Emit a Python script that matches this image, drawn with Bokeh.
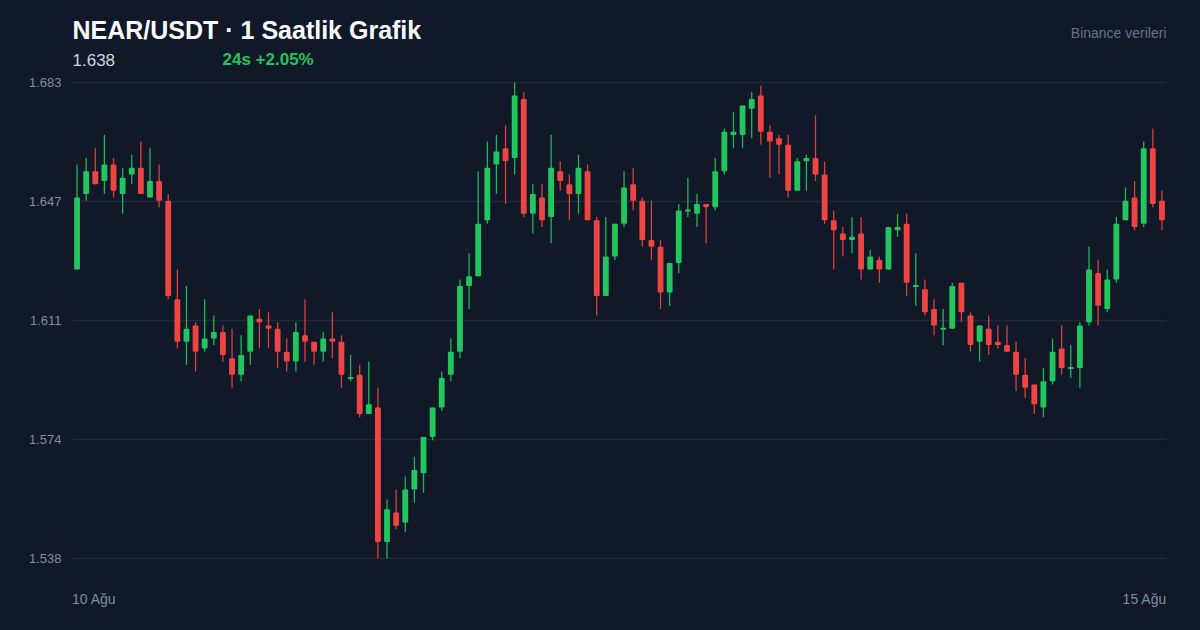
from bokeh.plotting import figure
from bokeh.layouts import column
from bokeh.models import FixedTicker, Range1d
from bokeh.core.properties import value
from bokeh.embed import file_html
from bokeh.resources import INLINE

opens = [1.626,1.649,1.656,1.653,1.658,1.649,1.655,1.657,1.648,1.653,1.647,1.617,1.604,1.609,1.602,1.605,1.607,1.599,1.594,1.601,
         1.611,1.609,1.608,1.601,1.598,1.606,1.604,1.601,1.605,1.604,1.593,1.594,1.582,1.584,1.543,1.552,1.549,1.559,1.564,1.575,
         1.584,1.594,1.601,1.621,1.624,1.641,1.658,1.663,1.660,1.678,1.643,1.648,1.642,1.656,1.652,1.649,1.656,1.641,1.618,1.630,
         1.640,1.652,1.647,1.635,1.633,1.619,1.628,1.644,1.643,1.646,1.645,1.656,1.667,1.667,1.675,1.679,1.668,1.666,1.664,1.650,
         1.659,1.660,1.655,1.641,1.637,1.635,1.637,1.626,1.629,1.626,1.638,1.640,1.621,1.620,1.614,1.608,1.608,1.622,1.612,1.604,
         1.608,1.604,1.603,1.601,1.594,1.591,1.584,1.592,1.602,1.596,1.596,1.610,1.625,1.614,1.623,1.641,1.648,1.640,1.663,1.647]
closes = [1.648,1.656,1.652,1.658,1.650,1.654,1.657,1.649,1.653,1.647,1.618,1.604,1.608,1.601,1.605,1.607,1.600,1.594,1.600,1.612,
          1.610,1.608,1.601,1.598,1.607,1.604,1.601,1.605,1.604,1.594,1.593,1.582,1.585,1.543,1.553,1.548,1.559,1.565,1.575,1.584,
          1.593,1.601,1.621,1.624,1.640,1.657,1.662,1.659,1.679,1.643,1.649,1.641,1.657,1.653,1.649,1.657,1.641,1.618,1.630,1.640,
          1.651,1.647,1.635,1.633,1.619,1.628,1.644,1.644,1.646,1.645,1.656,1.668,1.668,1.676,1.678,1.668,1.665,1.664,1.650,1.659,
          1.660,1.655,1.641,1.638,1.635,1.636,1.626,1.630,1.626,1.639,1.639,1.622,1.621,1.613,1.609,1.608,1.621,1.613,1.603,1.609,
          1.603,1.603,1.601,1.594,1.590,1.585,1.592,1.601,1.596,1.596,1.609,1.626,1.615,1.623,1.640,1.647,1.639,1.663,1.646,1.641]
highs = [1.658,1.660,1.663,1.667,1.660,1.657,1.661,1.665,1.663,1.658,1.649,1.626,1.621,1.610,1.617,1.612,1.609,1.608,1.606,1.612,
         1.614,1.613,1.610,1.605,1.610,1.617,1.604,1.607,1.613,1.606,1.600,1.597,1.598,1.590,1.556,1.559,1.563,1.569,1.575,1.584,
         1.595,1.605,1.623,1.631,1.656,1.665,1.667,1.670,1.683,1.680,1.652,1.652,1.667,1.659,1.655,1.661,1.658,1.642,1.642,1.640,
         1.656,1.657,1.648,1.647,1.635,1.628,1.646,1.654,1.649,1.646,1.660,1.669,1.674,1.676,1.680,1.682,1.670,1.667,1.667,1.660,
         1.661,1.673,1.659,1.644,1.639,1.642,1.642,1.632,1.630,1.639,1.643,1.643,1.631,1.623,1.617,1.614,1.622,1.622,1.613,1.609,
         1.612,1.609,1.609,1.604,1.599,1.591,1.596,1.605,1.609,1.603,1.610,1.633,1.629,1.626,1.642,1.651,1.653,1.665,1.669,1.650]
lows = [1.626,1.647,1.652,1.649,1.648,1.643,1.652,1.649,1.648,1.645,1.617,1.602,1.597,1.595,1.601,1.603,1.598,1.590,1.592,1.597,
        1.602,1.602,1.596,1.595,1.595,1.598,1.597,1.598,1.599,1.590,1.592,1.581,1.582,1.538,1.538,1.547,1.546,1.555,1.558,1.574,
        1.583,1.592,1.599,1.614,1.624,1.640,1.649,1.646,1.655,1.642,1.637,1.639,1.634,1.650,1.641,1.643,1.641,1.612,1.618,1.629,
        1.639,1.644,1.633,1.629,1.614,1.615,1.625,1.642,1.639,1.634,1.644,1.655,1.663,1.663,1.666,1.664,1.654,1.655,1.648,1.650,
        1.650,1.653,1.640,1.626,1.630,1.631,1.623,1.626,1.622,1.626,1.636,1.618,1.615,1.612,1.606,1.603,1.608,1.610,1.601,1.598,
        1.600,1.602,1.601,1.589,1.587,1.582,1.581,1.591,1.594,1.593,1.590,1.609,1.609,1.613,1.622,1.641,1.638,1.639,1.645,1.638]

y_ticks = [1.538, 1.57425, 1.6105, 1.64675, 1.683]
y_tick_labels = ["1.538", "1.574", "1.611", "1.647", "1.683"]
x_tick_slots = [2.38, 117.62]
x_tick_labels = ["10 Ağu", "15 Ağu"]

BG = "#111827"
GREEN = "#22c55e"
RED = "#ef4444"
FONT = "Liberation Sans"
HEADER_H = 72

# header strip: its ranges are the pixels of the strip
head = figure(width=1200, height=HEADER_H, output_backend="svg", toolbar_location=None,
              x_range=Range1d(0, 1200), y_range=Range1d(HEADER_H, 0),
              x_axis_type=None, y_axis_type=None,
              background_fill_color=BG, border_fill_color=BG, min_border=0)
head.frame_align = False
head.outline_line_color = None
head.grid.visible = False

def txt(s, x, y, size, color, bold=False, align="left"):
    head.text([x], [y], text=[s], text_font=value(FONT), text_font_size=value(size),
              text_color=color, text_font_style="bold" if bold else "normal",
              text_align=align, text_baseline="alphabetic")

txt("NEAR/USDT · 1 Saatlik Grafik", 72, 29, "25px", "#f8fafc", bold=True)
txt("1.638", 72, 59, "17px", "#cbd5e1")
txt("24s +2.05%", 222, 59, "17px", GREEN, bold=True)
txt("Binance verileri", 1166, 32, "14px", "#64748b", align="right")

p = figure(width=1200, height=558, output_backend="svg", toolbar_location=None,
           x_range=Range1d(0, len(opens)), y_range=Range1d(1.5377, 1.6833),
           background_fill_color=BG, border_fill_color=BG,
           min_border_left=72, min_border_right=34, min_border_top=9, min_border_bottom=71)
p.frame_align = False
p.outline_line_color = None

p.xgrid.visible = False
p.ygrid.grid_line_color = "#1e2a38"
p.ygrid.grid_line_width = 1.5
p.ygrid.ticker = FixedTicker(ticks=y_ticks)

ya = p.yaxis[0]
ya.ticker = FixedTicker(ticks=y_ticks)
ya.major_label_overrides = dict(zip(y_ticks, y_tick_labels))
ya.axis_line_color = None
ya.major_tick_line_color = None
ya.minor_tick_line_color = None
ya.major_label_text_color = "#7f8ea3"
ya.major_label_text_font = FONT
ya.major_label_text_font_size = "13px"
ya.major_label_standoff = 5

xa = p.xaxis[0]
xa.ticker = FixedTicker(ticks=x_tick_slots)
xa.major_label_overrides = dict(zip(x_tick_slots, x_tick_labels))
xa.axis_line_color = None
xa.major_tick_line_color = None
xa.minor_tick_line_color = None
xa.major_label_text_color = "#7f8ea3"
xa.major_label_text_font = FONT
xa.major_label_text_font_size = "14px"
xa.major_label_standoff = 25

xs = [i + 0.5 for i in range(len(opens))]
up = [c >= o for o, c in zip(opens, closes)]
colors = [GREEN if u else RED for u in up]
DOJI = 0.0003
tops = [max(o, c) + (DOJI if o == c else 0) for o, c in zip(opens, closes)]
bottoms = [min(o, c) - (DOJI if o == c else 0) for o, c in zip(opens, closes)]

p.segment(xs, highs, xs, lows, line_color=colors, line_width=1.3, line_alpha=0.9)
p.vbar(x=xs, top=tops, bottom=bottoms, width=0.64, fill_color=colors, line_color=None, border_radius=1)

html = file_html(column(head, p, spacing=0), INLINE)
# same colour behind the figures, so no white page shows through at their edges
html = html.replace("<head>", "<head><style>html,body{background:%s}</style>" % BG, 1)
open("out.html", "w").write(html)
